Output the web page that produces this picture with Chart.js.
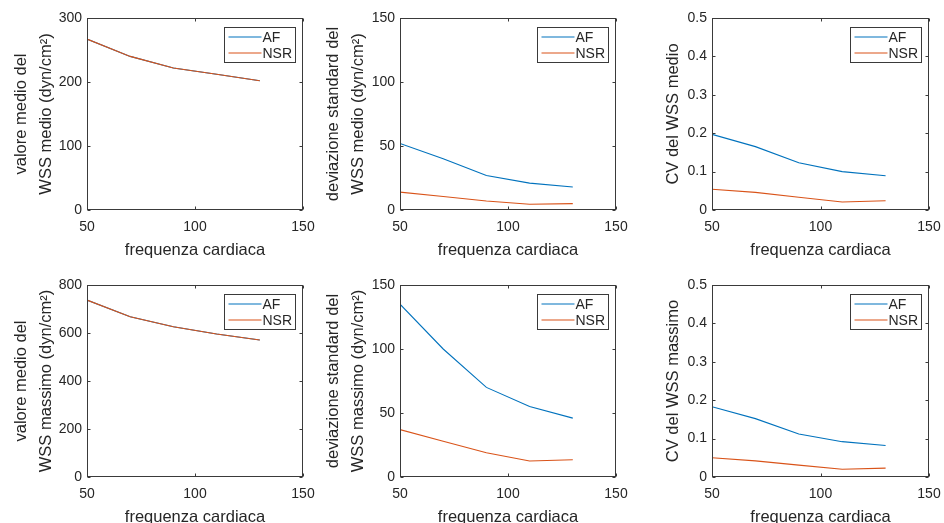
<!DOCTYPE html>
<html>
<head>
<meta charset="utf-8">
<script src="https://cdn.jsdelivr.net/npm/chart.js@4/dist/chart.umd.min.js"></script>
<style>
  html, body { margin: 0; padding: 0; background: #fff; width: 944px; height: 523px; overflow: hidden; }
  canvas { position: absolute; }
</style>
</head>
<body>
<canvas id="c1"></canvas>
<canvas id="c2"></canvas>
<canvas id="c3"></canvas>
<canvas id="c4"></canvas>
<canvas id="c5"></canvas>
<canvas id="c6"></canvas>
<script>
// ---- data ----
const heartRate = [50, 70, 90, 110, 130];
const xTicksRange = [50, 150];
const seriesNames = ['AF', 'NSR'];

const meanWssMedioAF  = [267, 240, 222, 212, 202];
const meanWssMedioNSR = [267, 240, 222, 212, 202];
const sdWssMedioAF    = [52, 40, 27, 21, 18];
const sdWssMedioNSR   = [14, 10.5, 7, 4.5, 5];
const cvWssMedioAF    = [0.197, 0.165, 0.123, 0.100, 0.089];
const cvWssMedioNSR   = [0.054, 0.046, 0.033, 0.021, 0.024];

const meanWssMaxAF    = [737, 668, 626, 596, 571];
const meanWssMaxNSR   = [737, 668, 626, 596, 571];
const sdWssMaxAF      = [135, 100, 70, 55, 46];
const sdWssMaxNSR     = [37, 28, 19, 12.5, 13.5];
const cvWssMaxAF      = [0.183, 0.152, 0.112, 0.092, 0.082];
const cvWssMaxNSR     = [0.050, 0.042, 0.031, 0.020, 0.023];

const yTitles = [
  ['valore medio del', 'WSS medio (dyn/cm²)'],
  ['deviazione standard del', 'WSS medio (dyn/cm²)'],
  'CV del WSS medio',
  ['valore medio del', 'WSS massimo (dyn/cm²)'],
  ['deviazione standard del', 'WSS massimo (dyn/cm²)'],
  'CV del WSS massimo'
];
const xTitle = 'frequenza cardiaca';
const yMax  = [300, 150, 0.5, 800, 150, 0.5];
const yStep = [100, 50, 0.1, 200, 50, 0.1];

// ---- styling / layout ----
const FONT = '"Liberation Sans", Arial, Helvetica, sans-serif';
const TXT = '#262626';
const COL_AF = '#0072BD';
const COL_NSR = '#D95319';
const colLeft = [87, 400, 712];
const colW = [216, 216, 217];
const rowTop = [18, 285];
const plotH = 192;
const LEFT_M = 87, TOP_M = 18, RIGHT_M = 24, BOTTOM_M = 50;
const titlePad = [9, 8, 36, 9, 8, 36];

const matlabBox = {
  id: 'matlabBox',
  afterDatasetsDraw(chart) {
    const {ctx, chartArea: a, scales} = chart;
    const L = Math.round(a.left) + 0.5, R = Math.round(a.right) - 0.5;
    const T = Math.round(a.top) + 0.5, B = Math.round(a.bottom) - 0.5;
    ctx.save();
    ctx.strokeStyle = '#3a3a3a';
    ctx.lineWidth = 1;
    ctx.strokeRect(L, T, R - L, B - T);
    const tl = 3;
    ctx.beginPath();
    scales.x.ticks.forEach(t => {
      const px = Math.round(scales.x.getPixelForValue(t.value)) + 0.5;
      ctx.moveTo(px, B); ctx.lineTo(px, B - tl);
      ctx.moveTo(px, T); ctx.lineTo(px, T + tl);
    });
    scales.y.ticks.forEach(t => {
      const py = Math.round(scales.y.getPixelForValue(t.value)) + 0.5;
      ctx.moveTo(L, py); ctx.lineTo(L + tl, py);
      ctx.moveTo(R, py); ctx.lineTo(R - tl, py);
    });
    ctx.stroke();

    // legend box, top-right inside the axes
    const bw = 71, bh = 35;
    const bx = Math.round(a.right - 8 - bw) + 0.5, by = Math.round(a.top + 9) + 0.5;
    ctx.fillStyle = '#fff';
    ctx.fillRect(bx, by, bw, bh);
    ctx.strokeStyle = '#3a3a3a';
    ctx.strokeRect(bx, by, bw, bh);
    ctx.font = '14px ' + FONT;
    ctx.textBaseline = 'middle';
    ctx.textAlign = 'left';
    chart.data.datasets.forEach((ds, i) => {
      const ly = Math.round(by + 9 + i * 16);
      ctx.strokeStyle = ds.borderColor;
      ctx.lineWidth = 1.2;
      ctx.beginPath();
      ctx.moveTo(bx + 4, ly); ctx.lineTo(bx + 37, ly);
      ctx.stroke();
      ctx.fillStyle = TXT;
      ctx.fillText(ds.label, bx + 38, ly + 1);
    });
    ctx.restore();
  }
};

const panels = [
  [meanWssMedioAF, meanWssMedioNSR],
  [sdWssMedioAF, sdWssMedioNSR],
  [cvWssMedioAF, cvWssMedioNSR],
  [meanWssMaxAF, meanWssMaxNSR],
  [sdWssMaxAF, sdWssMaxNSR],
  [cvWssMaxAF, cvWssMaxNSR]
];

panels.forEach((pair, i) => {
  const col = i % 3, row = Math.floor(i / 3);
  const cv = document.getElementById('c' + (i + 1));
  const w = LEFT_M + colW[col] + RIGHT_M, h = TOP_M + plotH + BOTTOM_M;
  cv.width = w; cv.height = h;
  cv.style.width = w + 'px'; cv.style.height = h + 'px';
  cv.style.left = (colLeft[col] - LEFT_M) + 'px';
  cv.style.top = (rowTop[row] - TOP_M) + 'px';

  new Chart(cv, {
    type: 'line',
    data: {
      datasets: seriesNames.map((name, k) => ({
        label: name,
        data: heartRate.map((x, j) => ({x, y: pair[k][j]})),
        borderColor: k === 0 ? COL_AF : COL_NSR,
        backgroundColor: k === 0 ? COL_AF : COL_NSR,
        borderWidth: 1.1,
        pointRadius: 0,
        tension: 0,
        fill: false,
        order: k === 0 ? 1 : 0
      }))
    },
    options: {
      responsive: false,
      animation: false,
      devicePixelRatio: 1,
      layout: { padding: { left: 0, top: TOP_M, right: RIGHT_M, bottom: 0 } },
      plugins: { legend: { display: false }, tooltip: { enabled: false } },
      scales: {
        x: {
          type: 'linear',
          min: xTicksRange[0], max: xTicksRange[1],
          afterFit: s => { s.height = BOTTOM_M; },
          grid: { display: false, drawTicks: false },
          border: { display: false },
          ticks: { stepSize: 50, padding: 9, color: TXT, maxRotation: 0,
                   font: { family: FONT, size: 14, lineHeight: 1.2 } },
          title: { display: true, text: xTitle, color: TXT, padding: 0,
                   font: { family: FONT, size: 16.5, lineHeight: 1.2 } }
        },
        y: {
          type: 'linear',
          min: 0, max: yMax[i],
          afterFit: s => { s.width = LEFT_M; },
          grid: { display: false, drawTicks: false },
          border: { display: false },
          ticks: { stepSize: yStep[i], padding: 5, color: TXT,
                   font: { family: FONT, size: 14, lineHeight: 1.2 } },
          title: { display: true, text: yTitles[i], color: TXT,
                   padding: { top: titlePad[i], bottom: 0 },
                   font: { family: FONT, size: 16.5, lineHeight: 1.5 } }
        }
      }
    },
    plugins: [matlabBox]
  });
});
</script>
</body>
</html>
